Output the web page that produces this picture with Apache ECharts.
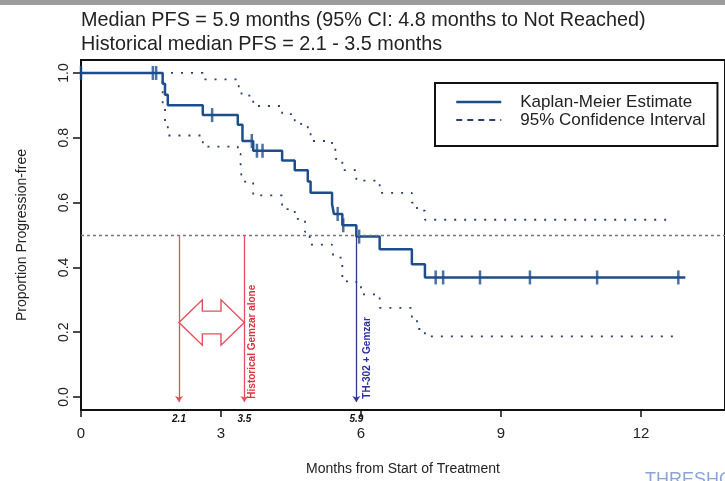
<!DOCTYPE html>
<html>
<head>
<meta charset="utf-8">
<script src="https://cdn.jsdelivr.net/npm/echarts@6/dist/echarts.min.js"></script>
<style>
html, body { margin: 0; padding: 0; background: #fff; }
#pfsChart { width: 725px; height: 481px; }
</style>
</head>
<body>
<div id="pfsChart"></div>
<script>
// Kaplan-Meier estimate (time in months, survival after each step)
var kmTime = [0, 1.75, 1.80, 1.86, 2.61, 3.36, 3.46, 3.69, 4.31, 4.58, 4.86, 4.92, 5.38, 5.42, 5.60, 5.90, 6.40, 7.09, 7.37, 12.95];
var kmSurv = [1, 0.967, 0.933, 0.90, 0.87, 0.84, 0.79, 0.76, 0.73, 0.70, 0.665, 0.63, 0.595, 0.565, 0.53, 0.495, 0.456, 0.41, 0.369, 0.369];

// censored observations
var censorTime = [0, 1.54, 1.61, 2.81, 3.66, 3.77, 3.89, 5.50, 5.62, 5.96, 7.60, 7.76, 8.55, 9.62, 11.06, 12.80];

// 95% confidence interval
var upperTime = [0, 2.61, 3.38, 3.44, 3.69, 4.31, 4.58, 4.86, 4.92, 5.38, 5.45, 5.60, 5.90, 6.40, 7.09, 7.20, 7.37, 12.70];
var upperVal = [1, 0.98, 0.955, 0.93, 0.898, 0.873, 0.843, 0.82, 0.79, 0.767, 0.735, 0.70, 0.668, 0.63, 0.60, 0.575, 0.547, 0.547];
var lowerTime = [0, 1.75, 1.80, 1.86, 2.61, 3.36, 3.42, 3.46, 3.69, 4.31, 4.58, 4.80, 4.90, 5.38, 5.42, 5.60, 5.90, 6.00, 6.40, 7.09, 7.20, 7.37, 12.70];
var lowerVal = [1, 0.90, 0.85, 0.807, 0.773, 0.75, 0.70, 0.665, 0.622, 0.58, 0.55, 0.51, 0.47, 0.45, 0.43, 0.357, 0.346, 0.317, 0.275, 0.24, 0.21, 0.187, 0.187];

// reference values and ticks
var historicalRange = [2.1, 3.5];
var medianPfs = 5.9;
var medianLevel = 0.5;
var xTicks = [0, 3, 6, 9, 12];
var markTicks = [2.1, 3.5, 5.9];
var yTicks = [0, 0.2, 0.4, 0.6, 0.8, 1.0];

var font = 'Liberation Sans, Arial, sans-serif';
var kmColor = '#1d4d8a';
var ciColor = '#2c3f6e';
var red = '#e2505b';
var blue = '#2e3a92';

function pairs(xs, ys) {
    return xs.map(function (x, i) { return [x, ys[i]]; });
}

function survAt(t) {
    var s = kmSurv[0];
    for (var i = 0; i < kmTime.length; i++) {
        if (kmTime[i] <= t) s = kmSurv[i];
    }
    return s;
}

var censorData = censorTime.map(function (t) { return [t, survAt(t)]; });

function renderNotes(params, api) {
    var c = 0.23, head = 0.07, shaft = 0.035;
    var lo = historicalRange[0], hi = historicalRange[1];
    var pts = [
        [lo, c], [lo + 0.5, c + head], [lo + 0.5, c + shaft], [hi - 0.5, c + shaft], [hi - 0.5, c + head],
        [hi, c], [hi - 0.5, c - head], [hi - 0.5, c - shaft], [lo + 0.5, c - shaft], [lo + 0.5, c - head]
    ].map(function (p) { return api.coord(p); });
    var redAt = api.coord([hi, -0.005]);
    var blueAt = api.coord([medianPfs, -0.005]);
    return {
        type: 'group',
        children: [{
            type: 'polygon',
            shape: { points: pts },
            style: { fill: '#fff', stroke: red, lineWidth: 1.4 }
        }, {
            type: 'text',
            x: redAt[0] + 3,
            y: redAt[1],
            rotation: Math.PI / 2,
            style: { text: 'Historical Gemzar alone', fill: '#d8343f', font: 'bold 10px ' + font, align: 'left', verticalAlign: 'top' }
        }, {
            type: 'text',
            x: blueAt[0] + 6,
            y: blueAt[1],
            rotation: Math.PI / 2,
            style: { text: 'TH-302 + Gemzar', fill: '#2b2f9a', font: 'bold 10px ' + font, align: 'left', verticalAlign: 'top' }
        }]
    };
}

var option = {
    backgroundColor: '#fff',
    animation: false,
    textStyle: { fontFamily: font },
    title: [{
        text: 'Median PFS = 5.9 months (95% CI: 4.8 months to Not Reached)',
        left: 81,
        top: 11,
        padding: 0,
        textStyle: { fontSize: 19.8, fontWeight: 'normal', color: '#222', fontFamily: font }
    }, {
        text: 'Historical median PFS = 2.1 - 3.5 months',
        left: 81,
        top: 35,
        padding: 0,
        textStyle: { fontSize: 19.8, fontWeight: 'normal', color: '#222', fontFamily: font }
    }],
    graphic: [{
        type: 'rect',
        left: 0,
        top: 0,
        shape: { width: 725, height: 5 },
        style: { fill: '#9c9c9c' }
    }, {
        type: 'text',
        left: 645,
        top: 471,
        style: { text: 'THRESHOLD', fill: '#8aa4d6', font: '18px ' + font }
    }],
    legend: {
        orient: 'vertical',
        left: 435,
        top: 83,
        padding: [10, 12, 17, 20],
        itemWidth: 45,
        itemHeight: 14,
        itemGap: 0,
        borderColor: '#111',
        borderWidth: 2,
        itemStyle: { opacity: 0 },
        textStyle: { fontSize: 17, lineHeight: 18, color: '#222', fontFamily: font, padding: [0, 0, 0, 14] },
        data: [
            { name: 'Kaplan-Meier Estimate', lineStyle: { width: 2.5 } },
            { name: '95% Confidence Interval', lineStyle: { type: [6, 5], width: 2 } }
        ]
    },
    grid: {
        left: 81,
        right: 0,
        top: 60,
        bottom: 64,
        show: true,
        borderColor: '#111',
        borderWidth: 2
    },
    xAxis: [{
        type: 'value',
        min: 0,
        max: 13.8,
        position: 'bottom',
        name: 'Months from Start of Treatment',
        nameLocation: 'middle',
        nameGap: 52,
        nameTextStyle: { fontSize: 14, color: '#222' },
        axisLine: { onZero: false, lineStyle: { color: '#111', width: 2 } },
        axisTick: { customValues: xTicks, length: 7, lineStyle: { color: '#111', width: 1.5 } },
        axisLabel: { customValues: xTicks, fontSize: 15, color: '#222', margin: 16 },
        splitLine: { show: false }
    }, {
        type: 'value',
        min: 0,
        max: 13.8,
        position: 'bottom',
        offset: 0,
        axisLine: { show: false, onZero: false },
        axisTick: { show: false },
        axisLabel: {
            customValues: markTicks, fontSize: 10, fontStyle: 'italic', fontWeight: 'bold', color: '#111', margin: 4,
            formatter: function (v) { return v.toFixed(1); }
        },
        splitLine: { show: false }
    }],
    yAxis: {
        type: 'value',
        min: -0.04,
        max: 1.04,
        name: 'Proportion Progression-free',
        nameLocation: 'middle',
        nameGap: 52,
        nameTextStyle: { fontSize: 14, color: '#222' },
        axisLine: { show: true, onZero: false, lineStyle: { color: '#111', width: 2 } },
        axisTick: { show: true, customValues: yTicks, length: 8, lineStyle: { color: '#111', width: 1.5 } },
        axisLabel: {
            customValues: yTicks, rotate: 90, fontSize: 14, color: '#222', margin: 10,
            formatter: function (v) { return v.toFixed(1); }
        },
        splitLine: { show: false }
    },
    series: [{
        name: '95% Confidence Interval',
        type: 'line',
        step: 'end',
        symbol: 'none',
        xAxisIndex: 0,
        data: pairs(upperTime, upperVal),
        color: ciColor,
        lineStyle: { color: ciColor, width: 1.8, type: [2, 8] },
        markLine: {
            silent: true,
            symbol: 'none',
            label: { show: false },
            lineStyle: { color: '#777', width: 1.3, type: [3, 3] },
            data: [{ yAxis: medianLevel }]
        }
    }, {
        name: '95% Confidence Interval',
        type: 'line',
        step: 'end',
        symbol: 'none',
        xAxisIndex: 0,
        data: pairs(lowerTime, lowerVal),
        color: ciColor,
        lineStyle: { color: ciColor, width: 1.8, type: [2, 8] },
        markLine: {
            silent: true,
            symbol: ['none', 'arrow'],
            symbolSize: 6,
            label: { show: false },
            data: [
                [{ coord: [historicalRange[0], medianLevel], lineStyle: { color: red, width: 1.3, type: 'solid' } }, { coord: [historicalRange[0], -0.015] }],
                [{ coord: [historicalRange[1], medianLevel], lineStyle: { color: red, width: 1.3, type: 'solid' } }, { coord: [historicalRange[1], -0.015] }],
                [{ coord: [medianPfs, medianLevel], lineStyle: { color: blue, width: 1.3, type: 'solid' } }, { coord: [medianPfs, -0.015] }]
            ]
        }
    }, {
        name: 'Kaplan-Meier Estimate',
        type: 'line',
        step: 'end',
        symbol: 'none',
        xAxisIndex: 0,
        data: pairs(kmTime, kmSurv),
        color: kmColor,
        lineStyle: { color: kmColor, width: 2.5 }
    }, {
        name: 'Censored',
        type: 'scatter',
        xAxisIndex: 0,
        symbol: 'rect',
        symbolSize: [2.5, 14],
        itemStyle: { color: kmColor },
        data: censorData
    }, {
        name: 'Notes',
        type: 'custom',
        xAxisIndex: 0,
        silent: true,
        renderItem: renderNotes,
        data: [[historicalRange[0], medianLevel]]
    }]
};

var myChart = echarts.init(document.getElementById('pfsChart'));
myChart.setOption(option);
</script>
</body>
</html>
